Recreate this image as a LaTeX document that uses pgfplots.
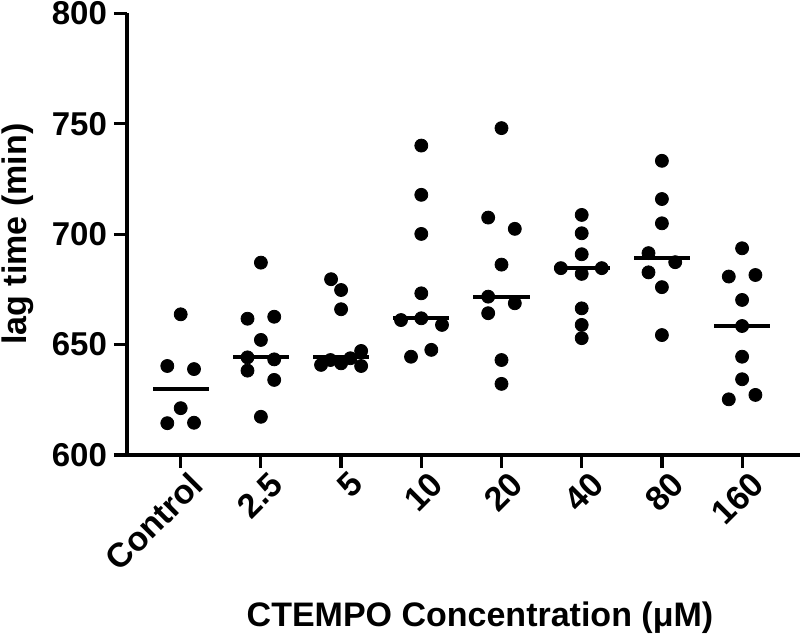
\documentclass[border=0pt]{standalone}
\usepackage{pgfplots}
\pgfplotsset{compat=1.18}
\usepackage{fontspec}
\setmainfont{Liberation Sans}
\pgfplotstableread{
x y
0.000 663.7
-0.167 640.3
0.166 638.9
0.000 621.2
-0.167 614.4
0.166 614.6
1.000 687.1
0.833 661.7
1.166 662.6
1.000 652.1
0.833 644.2
1.166 643.3
0.833 638.2
1.166 634.0
1.000 617.3
1.875 679.6
2.000 674.7
2.000 666.0
1.750 640.8
1.867 643.0
2.000 641.5
2.116 643.8
2.250 647.1
2.250 640.3
3.000 740.1
3.000 717.8
3.000 700.1
3.000 673.2
3.000 661.9
2.747 661.1
3.258 658.9
2.872 644.5
3.125 647.6
4.000 748.0
3.834 707.5
4.166 702.4
4.000 686.2
3.834 671.7
4.166 668.7
3.834 664.2
4.000 643.0
4.000 632.2
5.000 708.7
5.000 700.4
5.000 690.9
4.740 684.6
5.250 684.6
5.000 682.0
5.000 666.4
5.000 658.9
5.000 652.9
6.000 733.2
6.000 715.9
6.000 704.9
5.833 691.4
6.166 687.3
5.833 682.7
6.000 676.0
6.000 654.3
7.000 693.6
6.834 680.8
7.166 681.5
7.000 670.2
7.000 658.4
7.000 644.5
7.000 634.3
6.834 625.2
7.166 627.2
}\dots
\pgfplotstableread{
x y
0 630.0
1 644.2
2 644.2
3 661.9
4 671.7
5 684.6
6 689.4
7 658.4
}\medians
\begin{document}
\begin{tikzpicture}
\begin{axis}[
  name=ax,
  scale only axis,
  width=336.5pt, height=220.85pt,
  xmin=-0.6696, xmax=7.722,
  ymin=600, ymax=800,
  axis lines=left,
  axis line style={-, line width=1.6pt},
  clip=false,
  xtick={0,1,2,3,4,5,6,7},
  xticklabels={Control,2.5,5,10,20,40,80,160},
  ytick={600,650,700,750,800},
  tick align=outside,
  major tick length=6.5pt,
  every tick/.style={black, line width=1.6pt},
  /pgf/number format/assume math mode=true,
  yticklabel style={font=\bfseries\fontsize{16.5}{16.5}\selectfont, /pgf/number format/.cd, fixed, set thousands separator={}},
  xticklabel style={font=\bfseries\fontsize{17}{17}\selectfont, rotate=45, anchor=north east, inner sep=1pt, xshift=3pt, yshift=-2pt},
  xlabel={CTEMPO Concentration (μM)},
  ylabel={lag time (min)},
  every axis x label/.style={at={(axis description cs:0.5245,-0.389)}, anchor=base, font=\bfseries\fontsize{17}{17}\selectfont},
  every axis y label/.style={at={(axis description cs:-0.163,0.5)}, rotate=90, anchor=center, font=\bfseries\fontsize{17}{17}\selectfont},
]
\addplot[only marks, mark=*, mark size=3.25pt, black] table[x=x,y=y] {\dots};
\addplot[no marks, draw=none, black, line width=2pt,
  error bars/.cd, x dir=both, x fixed=0.35, error mark=none,
  error bar style={line width=2pt, black}] table[x=x,y=y] {\medians};
\end{axis}
\pgfresetboundingbox
\path[use as bounding box] (ax.south west) ++(-63.5pt,-93pt) rectangle ++(400pt,320.5pt);
\end{tikzpicture}
\end{document}
